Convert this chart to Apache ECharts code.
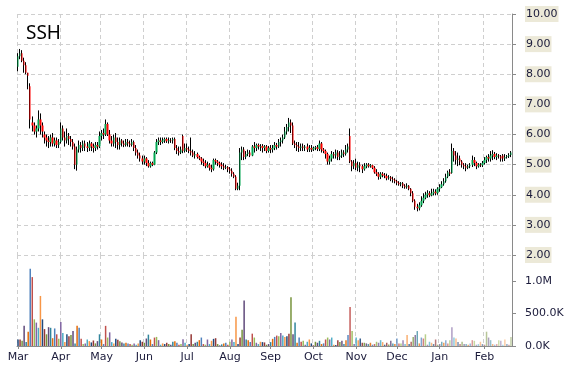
<!DOCTYPE html>
<html><head><meta charset="utf-8">
<script src="https://cdn.jsdelivr.net/npm/echarts@6/dist/echarts.min.js"></script>
<style>html,body{margin:0;padding:0;background:#fff}#c{width:570px;height:370px}</style>
</head><body><div id="c"></div><script>
const chartTitle = 'SSH';
const monthLabels = ['Mar','Apr','May','Jun','Jul','Aug','Sep','Oct','Nov','Dec','Jan','Feb'];
const monthTradingDays = [21,20,21,21,21,20,21,21,20,21,22,14];
const priceTickLabels = ['2.00','3.00','4.00','5.00','6.00','7.00','8.00','9.00','10.00'];

const opens = [
8.25,8.60,8.70,8.45,8.30,8.05,7.60,6.40,6.30,6.10,6.20,6.50,6.30,6.00,5.90,5.80,5.75,5.90,5.70,5.80,5.65,
5.75,6.20,5.90,5.80,5.95,5.85,5.75,5.60,5.00,5.50,5.65,5.55,5.70,5.60,5.55,5.70,5.60,5.55,5.65,5.60,
5.95,6.05,6.00,6.35,6.00,5.80,5.70,5.90,5.75,5.65,5.80,5.70,5.65,5.75,5.70,5.65,5.75,5.55,5.40,5.30,5.20,
5.10,5.20,5.05,4.95,5.05,5.00,5.40,5.75,5.80,5.75,5.80,5.85,5.78,5.82,5.80,5.85,5.55,5.45,5.40,5.95,5.45,
5.55,5.50,5.45,5.40,5.30,5.35,5.25,5.20,5.10,5.05,4.95,5.00,4.90,4.85,5.15,5.10,5.05,5.00,4.95,4.90,4.92,
4.85,4.80,4.70,4.60,4.20,4.30,5.40,5.50,5.25,5.35,5.40,5.30,5.60,5.55,5.65,5.60,5.62,5.55,5.60,5.45,
5.55,5.50,5.55,5.65,5.60,5.75,5.80,5.90,6.10,6.25,6.40,6.30,5.70,5.65,5.60,5.55,5.60,5.55,5.60,5.50,5.55,
5.50,5.55,5.58,5.52,5.70,5.50,5.45,5.35,5.10,5.20,5.35,5.30,5.40,5.25,5.30,5.40,5.35,5.50,5.95,5.10,4.95,
5.05,4.90,5.00,4.95,4.85,4.95,5.00,4.95,4.98,4.90,4.75,4.70,4.60,4.70,4.65,4.62,4.55,4.58,4.52,4.50,
4.45,4.40,4.35,4.38,4.30,4.25,4.30,4.20,4.05,3.80,3.60,3.55,3.65,3.80,3.90,4.00,4.05,3.98,4.05,4.10,4.05,
4.20,4.25,4.35,4.45,4.60,4.75,4.72,5.45,5.30,5.15,5.20,5.10,5.00,4.95,4.90,4.95,5.00,5.15,5.05,4.95,5.00,4.98,
5.05,5.15,5.25,5.20,5.30,5.35,5.25,5.30,5.28,5.30,5.20,5.25,5.28,5.32
];
const closes = [
8.60,8.70,8.45,8.30,8.05,7.95,6.50,6.30,6.10,6.20,6.50,6.30,6.10,5.90,5.80,5.75,5.90,5.70,5.80,5.65,5.75,
6.20,5.90,5.80,5.95,5.85,5.75,5.60,5.00,5.50,5.65,5.55,5.70,5.60,5.55,5.70,5.60,5.55,5.65,5.60,5.95,
6.05,6.00,6.35,6.00,5.80,5.70,5.90,5.75,5.65,5.80,5.70,5.65,5.75,5.70,5.65,5.75,5.55,5.40,5.30,5.20,5.10,
5.20,5.05,4.95,5.05,5.00,5.40,5.75,5.80,5.75,5.80,5.85,5.78,5.82,5.80,5.85,5.55,5.45,5.40,5.50,5.45,5.55,
5.50,5.45,5.40,5.30,5.35,5.25,5.20,5.10,5.05,4.95,5.00,4.90,4.85,5.15,5.10,5.05,5.00,4.95,4.90,4.92,4.85,
4.80,4.70,4.60,4.20,4.30,5.40,5.50,5.25,5.35,5.40,5.30,5.60,5.55,5.65,5.60,5.62,5.55,5.60,5.45,5.55,
5.50,5.55,5.65,5.60,5.75,5.80,5.90,6.10,6.25,6.40,6.30,5.70,5.65,5.60,5.55,5.60,5.55,5.60,5.50,5.55,5.50,
5.55,5.58,5.52,5.70,5.50,5.45,5.35,5.10,5.20,5.35,5.30,5.40,5.25,5.30,5.40,5.35,5.50,5.60,5.10,4.95,5.05,
4.90,5.00,4.95,4.85,4.95,5.00,4.95,4.98,4.90,4.75,4.70,4.60,4.70,4.65,4.62,4.55,4.58,4.52,4.50,4.45,
4.40,4.35,4.38,4.30,4.25,4.30,4.20,4.05,3.80,3.60,3.55,3.65,3.80,3.90,4.00,4.05,3.98,4.05,4.10,4.05,4.20,
4.25,4.35,4.45,4.60,4.75,4.70,5.45,5.30,5.15,5.20,5.10,5.00,4.95,4.90,4.95,5.00,5.15,5.05,4.95,5.00,4.98,5.05,
5.15,5.25,5.20,5.30,5.35,5.25,5.30,5.28,5.20,5.20,5.25,5.28,5.32,5.40
];
const lows = [
8.10,8.50,8.40,8.05,8.00,7.50,6.20,6.10,6.00,5.90,6.10,6.00,5.90,5.70,5.60,5.55,5.60,5.60,5.60,5.55,5.55,
5.70,5.80,5.60,5.70,5.65,5.60,5.50,4.85,4.80,5.40,5.40,5.45,5.45,5.42,5.45,5.45,5.40,5.45,5.50,5.55,
5.80,5.85,5.95,5.95,5.70,5.60,5.60,5.55,5.50,5.50,5.60,5.58,5.60,5.60,5.58,5.60,5.45,5.30,5.20,5.10,5.00,
5.00,4.95,4.90,4.90,4.95,4.98,5.35,5.65,5.65,5.70,5.72,5.72,5.70,5.72,5.70,5.48,5.35,5.30,5.35,5.38,5.40,
5.42,5.38,5.30,5.25,5.20,5.20,5.15,5.00,4.95,4.88,4.90,4.80,4.75,4.80,5.00,4.95,4.90,4.85,4.82,4.85,4.75,
4.70,4.60,4.55,4.15,4.15,4.15,5.15,5.15,5.18,5.28,5.25,5.28,5.40,5.45,5.50,5.45,5.40,5.45,5.38,5.40,
5.38,5.40,5.48,5.50,5.55,5.60,5.70,5.85,6.00,6.10,6.05,5.65,5.55,5.45,5.42,5.45,5.45,5.45,5.42,5.42,5.42,
5.45,5.48,5.45,5.45,5.40,5.38,5.20,5.00,5.00,5.10,5.20,5.20,5.15,5.15,5.22,5.25,5.30,5.40,5.05,4.78,4.85,
4.82,4.78,4.75,4.72,4.80,4.88,4.90,4.90,4.85,4.70,4.62,4.50,4.52,4.58,4.55,4.48,4.50,4.45,4.40,4.38,
4.32,4.30,4.28,4.22,4.20,4.20,4.15,3.95,3.75,3.50,3.45,3.48,3.60,3.72,3.85,3.90,3.92,3.95,3.98,3.98,4.00,
4.10,4.22,4.30,4.40,4.55,4.62,4.70,5.10,5.00,4.95,4.98,4.90,4.85,4.78,4.85,4.88,4.92,4.95,4.85,4.90,4.92,4.92,
5.00,5.05,5.10,5.10,5.15,5.18,5.15,5.20,5.10,5.10,5.12,5.20,5.22,5.25
];
const highs = [
8.70,8.84,8.80,8.55,8.40,8.05,7.70,6.60,6.40,6.30,6.80,6.70,6.40,6.10,6.00,5.95,6.00,6.05,5.90,5.90,5.85,
6.40,6.30,6.10,6.20,6.05,5.95,5.85,5.70,5.60,5.80,5.75,5.80,5.80,5.75,5.80,5.75,5.70,5.75,5.75,6.10,
6.15,6.20,6.50,6.40,6.15,5.95,6.00,6.05,5.90,5.90,5.85,5.80,5.85,5.85,5.80,5.85,5.80,5.65,5.50,5.40,5.30,
5.30,5.25,5.15,5.10,5.10,5.45,5.85,5.90,5.90,5.90,5.90,5.90,5.90,5.88,5.90,5.90,5.65,5.60,5.60,6.00,5.70,
5.70,5.60,5.90,5.50,5.45,5.40,5.30,5.25,5.20,5.15,5.10,5.05,5.00,5.20,5.20,5.15,5.10,5.08,5.05,5.00,4.95,
4.92,4.88,4.75,4.65,4.40,5.55,5.60,5.58,5.45,5.50,5.48,5.65,5.75,5.70,5.70,5.68,5.68,5.65,5.65,5.62,
5.65,5.65,5.75,5.72,5.85,5.90,6.00,6.25,6.35,6.55,6.50,6.40,5.80,5.75,5.75,5.70,5.70,5.65,5.70,5.65,5.65,
5.60,5.62,5.65,5.80,5.75,5.55,5.50,5.40,5.30,5.45,5.42,5.50,5.48,5.45,5.50,5.48,5.65,5.70,6.20,5.15,5.15,
5.20,5.10,5.08,5.00,5.05,5.05,5.05,5.02,5.00,4.95,4.85,4.75,4.75,4.75,4.72,4.70,4.65,4.62,4.60,4.55,
4.50,4.45,4.42,4.42,4.35,4.38,4.32,4.22,4.12,3.85,3.70,3.75,3.95,4.05,4.10,4.15,4.12,4.20,4.20,4.18,4.25,
4.35,4.45,4.55,4.70,4.80,4.85,5.70,5.55,5.45,5.40,5.30,5.15,5.05,5.05,5.00,5.05,5.30,5.25,5.10,5.05,5.05,5.12,
5.25,5.30,5.35,5.45,5.48,5.42,5.38,5.35,5.32,5.35,5.35,5.32,5.38,5.45
];
const volumesK = [
100,100,80,310,60,220,1190,1060,410,360,280,770,410,260,180,290,280,120,270,180,110,
370,200,60,180,150,170,230,40,310,280,110,30,40,100,75,55,85,40,75,180,
100,30,310,130,210,60,40,110,95,75,55,40,50,40,30,20,40,20,40,90,65,
50,115,175,100,30,130,140,90,20,40,30,50,30,20,65,75,50,20,30,105,50,
20,30,180,30,50,65,90,130,30,20,100,30,80,110,120,30,10,25,40,50,20,
65,100,60,450,30,130,250,700,100,90,60,190,130,50,30,65,60,55,20,30,
60,110,140,160,150,200,160,140,150,190,750,180,360,50,130,65,80,20,65,100,40,
10,65,50,80,30,40,100,130,100,130,20,15,90,60,80,30,90,170,600,230,30,
130,90,115,50,50,40,30,50,20,30,65,50,90,60,20,50,25,80,40,30,
115,40,40,90,30,170,30,65,140,170,230,40,130,115,180,20,65,50,30,100,20,
30,65,50,90,40,90,290,130,115,60,30,65,30,30,20,40,90,80,20,30,65,30,
20,220,130,90,30,20,30,90,80,20,100,30,20,140
];

// categories: one per trading day, month label at first day
const categories = [];
const monthStart = new Set();
monthLabels.forEach((m, k) => {
  monthStart.add(categories.length);
  for (let d = 1; d <= monthTradingDays[k]; d++) categories.push(m + '-' + d);
});
const isMonthStart = (idx) => monthStart.has(idx);

const candleData = opens.map((o, i) => [o, closes[i], lows[i], highs[i]]);
const volPalette = ['#1f497d','#953735','#77933c','#604a7b','#31859c','#e46c0a','#4f81bd','#c0504d','#9bbb59','#8064a2','#4bacc6','#f79646'];
const n = volumesK.length;
const volData = volumesK.map((v, i) => ({
  value: v,
  itemStyle: { color: volPalette[i % volPalette.length], opacity: i < 150 ? 1 : 1 - 0.55 * (i - 150) / (n - 150) }
}));

const labelFont = 'DejaVu Sans';
const textCol = '#1a1a3a';
const gridLine = { show: true, lineStyle: { color: '#cfcfcf', type: [4, 3], width: 1 } };

const chart = echarts.init(document.getElementById('c'), null, { renderer: 'canvas' });
chart.setOption({
  animation: false,
  backgroundColor: '#fff',
  title: {
    text: chartTitle,
    left: 21, top: 19,
    textStyle: { fontFamily: 'Noto Sans', fontSize: 19, fontWeight: 'normal', color: '#000' }
  },
  grid: [
    { left: 17, right: 58, top: 14, height: 241 },
    { left: 17, right: 58, top: 255, height: 91 }
  ],
  xAxis: [
    {
      type: 'category', gridIndex: 0, data: categories, boundaryGap: true,
      axisLine: { show: false }, axisTick: { show: false }, axisLabel: { show: false },
      splitLine: Object.assign({ interval: (i) => isMonthStart(i) }, gridLine)
    },
    {
      type: 'category', gridIndex: 1, data: categories, boundaryGap: true,
      axisLine: { show: true, lineStyle: { color: '#8a8a8a', width: 1 } },
      axisTick: { show: true, interval: (i) => isMonthStart(i), alignWithLabel: true, length: 3, lineStyle: { color: '#8a8a8a' } },
      axisLabel: {
        show: true, interval: (i) => isMonthStart(i), margin: 6,
        formatter: (v) => v.split('-')[0],
        fontFamily: labelFont, fontSize: 11, color: textCol
      },
      splitLine: Object.assign({ interval: (i) => isMonthStart(i) }, gridLine)
    }
  ],
  yAxis: [
    {
      type: 'value', gridIndex: 0, position: 'right', min: 2, max: 10, interval: 1,
      axisLine: { show: true, lineStyle: { color: '#8a8a8a', width: 1 } },
      axisTick: { show: true, length: 4, lineStyle: { color: '#8a8a8a' } },
      axisLabel: {
        margin: 13, fontFamily: labelFont, fontSize: 11, color: textCol,
        backgroundColor: '#ece9d8', padding: [3, 1, 2, 1],
        formatter: (v) => priceTickLabels[Math.round(v) - 2]
      },
      splitLine: gridLine
    },
    {
      type: 'value', gridIndex: 1, position: 'right', min: 0, max: 1400, interval: 500,
      axisLine: { show: true, lineStyle: { color: '#8a8a8a', width: 1 } },
      axisTick: { show: true, length: 4, lineStyle: { color: '#8a8a8a' } },
      axisLabel: {
        margin: 13, fontFamily: labelFont, fontSize: 11, color: textCol, showMaxLabel: false,
        formatter: (v) => v >= 1000 ? (v / 1000).toFixed(1) + 'M' : v.toFixed(1) + 'K'
      },
      splitLine: { show: false }
    }
  ],
  series: [
    {
      // black high-low wicks
      type: 'candlestick', xAxisIndex: 0, yAxisIndex: 0, data: candleData,
      barWidth: 1, z: 2,
      itemStyle: { color: '#000', color0: '#000', borderColor: '#000', borderColor0: '#000', borderWidth: 1 }
    },
    {
      // coloured open-close bodies
      type: 'candlestick', xAxisIndex: 0, yAxisIndex: 0, data: candleData,
      barWidth: 2, z: 3,
      itemStyle: { color: '#00a651', color0: '#ff0000', borderColor: '#00a651', borderColor0: '#ff0000', borderWidth: 0, opacity: 1 }
    },
    {
      type: 'bar', xAxisIndex: 1, yAxisIndex: 1, data: volData, barWidth: 1.5
    }
  ]
});
</script></body></html>
